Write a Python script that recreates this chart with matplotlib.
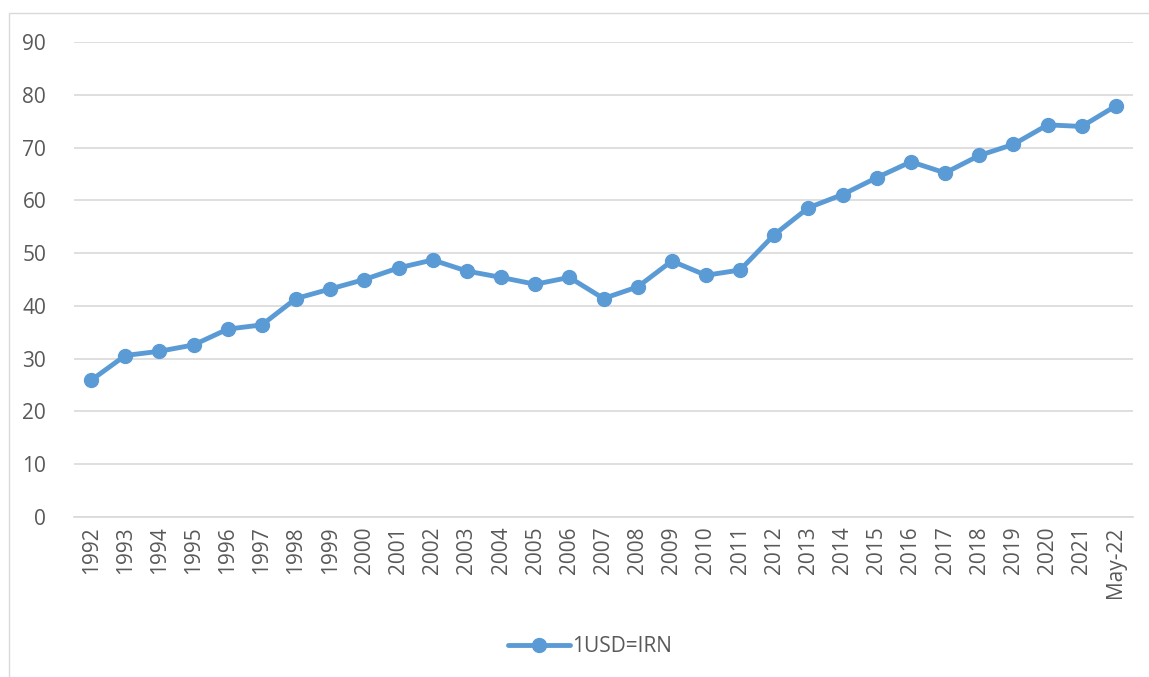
import matplotlib.pyplot as plt
from matplotlib.patches import Rectangle

# Exchange rate series
labels = ['1992', '1993', '1994', '1995', '1996', '1997', '1998', '1999', '2000',
          '2001', '2002', '2003', '2004', '2005', '2006', '2007', '2008', '2009',
          '2010', '2011', '2012', '2013', '2014', '2015', '2016', '2017', '2018',
          '2019', '2020', '2021', 'May-22']
values = [25.9, 30.6, 31.4, 32.6, 35.6, 36.4, 41.4, 43.2, 45.0,
          47.2, 48.7, 46.6, 45.4, 44.1, 45.4, 41.4, 43.6, 48.5,
          45.8, 46.8, 53.5, 58.6, 61.1, 64.3, 67.3, 65.2, 68.5,
          70.6, 74.3, 74.0, 77.9]
yticks = list(range(0, 91, 10))

plt.rcParams['font.family'] = ['Open Sans', 'DejaVu Sans']

fig = plt.figure(figsize=(11.49, 6.77), dpi=100, facecolor='white')
ax = fig.add_axes([74 / 1149, 1 - 517 / 677, (1133 - 74) / 1149, (517 - 42) / 677])

# chart border
fig.patches.append(Rectangle((9 / 1149, -0.01), 1.0, 1 - 13 / 677 + 0.01,
                             transform=fig.transFigure, fill=False,
                             edgecolor='#D9D9D9', linewidth=1))

x = list(range(len(labels)))
ax.plot(x, values, color='#5B9BD5', linewidth=3.5, marker='o', markersize=10,
        label='1USD=IRN', solid_capstyle='round')

ax.set_xlim(-0.5, len(labels) - 0.5)
ax.set_ylim(0, 90)
ax.set_yticks(yticks)
ax.set_xticks(x)
ax.set_xticklabels(labels, rotation=90, fontsize=15, color='#595959')
ax.set_yticklabels([str(t) for t in yticks], fontsize=15, color='#595959')
ax.tick_params(length=0, axis='y', pad=20)
ax.tick_params(length=0, axis='x', pad=7)

ax.grid(axis='y', color='#D9D9D9', linewidth=1.2)
ax.set_axisbelow(True)
for s in ['top', 'right', 'left']:
    ax.spines[s].set_visible(False)
ax.spines['bottom'].set_color('#D9D9D9')
ax.spines['bottom'].set_linewidth(1.2)

leg = fig.legend(loc='center', bbox_to_anchor=(590 / 1149, 1 - 647 / 677),
                 frameon=False, fontsize=15, handlelength=3.0, handletextpad=0.1)
for t in leg.get_texts():
    t.set_color('#595959')

fig.savefig('out.png', dpi=100, facecolor='white')
